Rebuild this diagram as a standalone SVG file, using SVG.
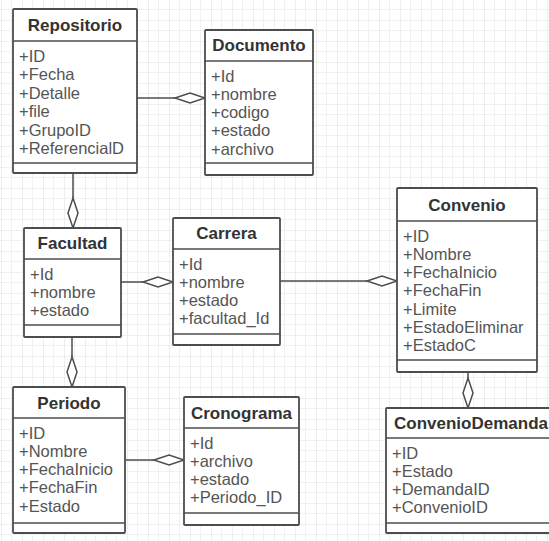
<svg xmlns="http://www.w3.org/2000/svg" width="549" height="541" viewBox="0 0 549 541">
  <defs>
    <pattern id="grid" width="21" height="21" patternUnits="userSpaceOnUse" x="1" y="-1">
      <path d="M10.5 0V21M0 10.5H21" stroke="#f1f1f1" stroke-width="1" fill="none"/>
      <path d="M0 0V21M0 0H21" stroke="#e2e2e2" stroke-width="1.2" fill="none"/>
    </pattern>
    <style>
      .box { fill: #ffffff; stroke: #4d4d4d; stroke-width: 1.8; }
      .sep { stroke: #4d4d4d; stroke-width: 1.5; }
      .title { font-family: "Liberation Sans", Arial, sans-serif; font-weight: bold; font-size: 17px; fill: #333; text-anchor: middle; }
      .attr { font-family: "Liberation Sans", Arial, sans-serif; font-size: 16.5px; fill: #555; }
      .edge { stroke: #4d4d4d; stroke-width: 1.5; fill: none; }
      .dia { fill: #ffffff; stroke: #4d4d4d; stroke-width: 1.5; }
    </style>
  </defs>

  <rect width="549" height="541" fill="#ffffff"/>
  <rect width="549" height="541" fill="url(#grid)"/>

  <!-- aggregation connectors: hollow diamond at the owning class -->
  <g id="connectors">
    <line class="edge" x1="137" y1="98" x2="175" y2="98"/>
    <path class="dia" d="M175 98 L190 93 L205 98 L190 103 Z"/>

    <line class="edge" x1="73" y1="173" x2="73" y2="198"/>
    <path class="dia" d="M73 198 L78 213 L73 228 L68 213 Z"/>

    <line class="edge" x1="121" y1="282" x2="143" y2="282"/>
    <path class="dia" d="M143 282 L158 277 L173 282 L158 287 Z"/>

    <line class="edge" x1="280" y1="281" x2="367" y2="281"/>
    <path class="dia" d="M367 281 L382 276 L397 281 L382 286 Z"/>

    <line class="edge" x1="72" y1="337" x2="72" y2="357"/>
    <path class="dia" d="M72 357 L77 372 L72 387 L67 372 Z"/>

    <line class="edge" x1="125" y1="460" x2="154" y2="460"/>
    <path class="dia" d="M154 460 L169 455 L184 460 L169 465 Z"/>

    <line class="edge" x1="468" y1="372" x2="468" y2="378"/>
    <path class="dia" d="M468 378 L473 393 L468 408 L463 393 Z"/>
  </g>

  <g id="Repositorio">
    <rect class="box" x="13" y="9" width="124" height="164" rx="1"/>
    <line class="sep" x1="13" y1="41" x2="137" y2="41"/>
    <line class="sep" x1="13" y1="163" x2="137" y2="163"/>
    <text class="title" x="75" y="31">Repositorio</text>
    <text class="attr" x="19" y="61.5">+ID</text>
    <text class="attr" x="19" y="80">+Fecha</text>
    <text class="attr" x="19" y="98.5">+Detalle</text>
    <text class="attr" x="19" y="117">+file</text>
    <text class="attr" x="19" y="135.5">+GrupoID</text>
    <text class="attr" x="19" y="154">+ReferencialD</text>
  </g>

  <g id="Documento">
    <rect class="box" x="205" y="30" width="108" height="145" rx="1"/>
    <line class="sep" x1="205" y1="61" x2="313" y2="61"/>
    <line class="sep" x1="205" y1="163" x2="313" y2="163"/>
    <text class="title" x="259" y="51">Documento</text>
    <text class="attr" x="211" y="81.5">+Id</text>
    <text class="attr" x="211" y="99.8">+nombre</text>
    <text class="attr" x="211" y="118.1">+codigo</text>
    <text class="attr" x="211" y="136.4">+estado</text>
    <text class="attr" x="211" y="154.7">+archivo</text>
  </g>

  <g id="Facultad">
    <rect class="box" x="24" y="228" width="97" height="109" rx="1"/>
    <line class="sep" x1="24" y1="259" x2="121" y2="259"/>
    <line class="sep" x1="24" y1="325" x2="121" y2="325"/>
    <text class="title" x="72.5" y="249">Facultad</text>
    <text class="attr" x="30" y="279.5">+Id</text>
    <text class="attr" x="30" y="297.8">+nombre</text>
    <text class="attr" x="30" y="316.1">+estado</text>
  </g>

  <g id="Carrera">
    <rect class="box" x="173" y="218" width="107" height="127" rx="1"/>
    <line class="sep" x1="173" y1="249" x2="280" y2="249"/>
    <line class="sep" x1="173" y1="334" x2="280" y2="334"/>
    <text class="title" x="226.5" y="239">Carrera</text>
    <text class="attr" x="179" y="269.5">+Id</text>
    <text class="attr" x="179" y="287.8">+nombre</text>
    <text class="attr" x="179" y="306.1">+estado</text>
    <text class="attr" x="179" y="324.4">+facultad_Id</text>
  </g>

  <g id="Convenio">
    <rect class="box" x="397" y="188" width="140" height="184" rx="1"/>
    <line class="sep" x1="397" y1="221" x2="537" y2="221"/>
    <line class="sep" x1="397" y1="360" x2="537" y2="360"/>
    <text class="title" x="467" y="211">Convenio</text>
    <text class="attr" x="403" y="241.5">+ID</text>
    <text class="attr" x="403" y="259.8">+Nombre</text>
    <text class="attr" x="403" y="278.1">+FechaInicio</text>
    <text class="attr" x="403" y="296.4">+FechaFin</text>
    <text class="attr" x="403" y="314.7">+Limite</text>
    <text class="attr" x="403" y="333">+EstadoEliminar</text>
    <text class="attr" x="403" y="351.3">+EstadoC</text>
  </g>

  <g id="Periodo">
    <rect class="box" x="13" y="387" width="112" height="146" rx="1"/>
    <line class="sep" x1="13" y1="418" x2="125" y2="418"/>
    <line class="sep" x1="13" y1="523" x2="125" y2="523"/>
    <text class="title" x="69" y="409">Periodo</text>
    <text class="attr" x="19" y="438.5">+ID</text>
    <text class="attr" x="19" y="456.8">+Nombre</text>
    <text class="attr" x="19" y="475.1">+FechaInicio</text>
    <text class="attr" x="19" y="493.4">+FechaFin</text>
    <text class="attr" x="19" y="511.7">+Estado</text>
  </g>

  <g id="Cronograma">
    <rect class="box" x="184" y="397" width="115" height="128" rx="1"/>
    <line class="sep" x1="184" y1="428" x2="299" y2="428"/>
    <line class="sep" x1="184" y1="513" x2="299" y2="513"/>
    <text class="title" x="241.5" y="419">Cronograma</text>
    <text class="attr" x="190" y="448.5">+Id</text>
    <text class="attr" x="190" y="466.8">+archivo</text>
    <text class="attr" x="190" y="485.1">+estado</text>
    <text class="attr" x="190" y="503.4">+Periodo_ID</text>
  </g>

  <g id="ConvenioDemanda">
    <rect class="box" x="386" y="408" width="170" height="125" rx="1"/>
    <line class="sep" x1="386" y1="438" x2="556" y2="438"/>
    <line class="sep" x1="386" y1="523" x2="556" y2="523"/>
    <text class="title" x="471" y="429">ConvenioDemanda</text>
    <text class="attr" x="392" y="458.5">+ID</text>
    <text class="attr" x="392" y="476.8">+Estado</text>
    <text class="attr" x="392" y="495.1">+DemandaID</text>
    <text class="attr" x="392" y="513.4">+ConvenioID</text>
  </g>
</svg>
